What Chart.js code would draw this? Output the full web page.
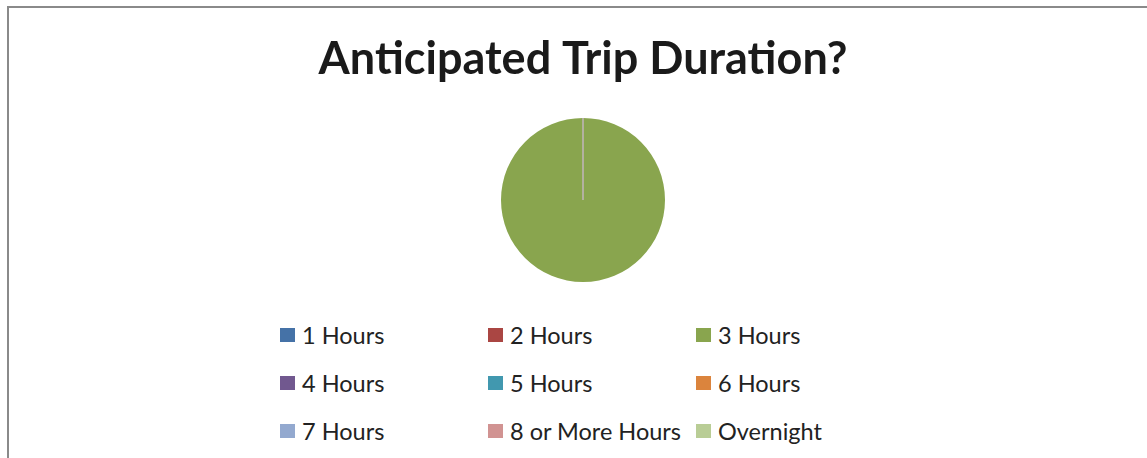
<!DOCTYPE html>
<html>
<head>
<meta charset="utf-8">
<script src="https://cdn.jsdelivr.net/npm/chart.js@4/dist/chart.umd.min.js"></script>
<style>
    html, body { margin: 0; padding: 0; background: #fff; overflow: hidden; }
    body { width: 1147px; height: 458px; position: relative; }
    #frame {
        position: absolute; left: 7px; top: 6px; width: 1200px; height: 500px;
        border-left: 2px solid #8a8a8a; border-top: 2px solid #8a8a8a;
    }
    #wrap { position: absolute; left: 9px; top: 8px; width: 1148px; height: 280px; }
    #legend {
        position: absolute; left: 280px; top: 320px;
        display: grid; grid-template-columns: repeat(3, 208px); grid-auto-rows: 48px;
        font-family: Lato, sans-serif; font-size: 23.5px; color: #222;
    }
    #legend .item { display: flex; align-items: center; height: 30px; white-space: nowrap; }
    #legend .box { width: 15px; height: 14px; margin-right: 7px; flex: none; }
</style>
</head>
<body>
<div id="frame"></div>
<div id="wrap"><canvas id="chart"></canvas></div>
<div id="legend"></div>

<script>
// ─── Data ────────────────────────────────────────────────────────────────────
const durations = ['1 Hours', '2 Hours', '3 Hours', '4 Hours', '5 Hours',
                   '6 Hours', '7 Hours', '8 or More Hours', 'Overnight'];
const responses = [0, 0, 1, 0, 0, 0, 0, 0, 0];
const sliceColors = ['#4572A7', '#AA4643', '#89A54E', '#71588F', '#4198AF',
                     '#DB843D', '#93A9CF', '#D19392', '#B9CD96'];

// thin seam where the pie starts (12 o'clock)
const seamLine = {
    id: 'seamLine',
    afterDatasetsDraw(chart) {
        const arcs = chart.getDatasetMeta(0).data;
        const arc  = arcs.find((a, i) => responses[i] > 0);
        if (!arc) return;
        const { x, y, startAngle, outerRadius } = arc.getProps(['x', 'y', 'startAngle', 'outerRadius'], true);
        const ctx = chart.ctx;
        ctx.save();
        ctx.strokeStyle = '#b3b19f';
        ctx.lineWidth = 2;
        ctx.beginPath();
        ctx.moveTo(x, y);
        ctx.lineTo(x + Math.cos(startAngle) * outerRadius, y + Math.sin(startAngle) * outerRadius);
        ctx.stroke();
        ctx.restore();
    }
};

const chart = new Chart(document.getElementById('chart'), {
    type: 'pie',
    data: {
        labels: durations,
        datasets: [{
            data: responses,
            backgroundColor: sliceColors,
            borderWidth: 0
        }]
    },
    options: {
        responsive: true,
        maintainAspectRatio: false,
        animation: false,
        layout: { padding: { bottom: 6 } },
        plugins: {
            legend: { display: false },
            tooltip: { enabled: false },
            title: {
                display: true,
                text: 'Anticipated Trip Duration?',
                color: '#1a1a1a',
                font: { family: 'Lato, sans-serif', size: 45, weight: 'bold', lineHeight: 1.2 },
                padding: { top: 24, bottom: 32 }
            }
        }
    },
    plugins: [seamLine]
});

// ─── HTML legend in three fixed columns ─────────────────────────────────────
const legendEl = document.getElementById('legend');
chart.options.plugins.legend.labels.generateLabels(chart).forEach(item => {
    const row = document.createElement('div');
    row.className = 'item';
    const box = document.createElement('span');
    box.className = 'box';
    box.style.background = item.fillStyle;
    const txt = document.createElement('span');
    txt.textContent = item.text;
    row.appendChild(box);
    row.appendChild(txt);
    legendEl.appendChild(row);
});
</script>
</body>
</html>
